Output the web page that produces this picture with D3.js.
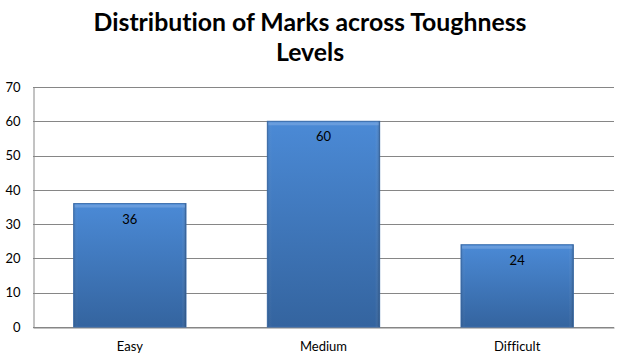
<!DOCTYPE html>
<html><head><meta charset="utf-8">
<script src="https://cdn.jsdelivr.net/npm/d3@7/dist/d3.min.js"></script>
<style>body{margin:0;background:#fff}svg{display:block}text{font-variant-ligatures:none}</style>
</head><body><svg id="c" width="620" height="360"></svg>
<script>
const categories = ["Easy", "Medium", "Difficult"];
const values = [36, 60, 24];
const yTicks = [0, 10, 20, 30, 40, 50, 60, 70];
const titleLines = ["Distribution of Marks across Toughness", "Levels"];

const svg = d3.select("#c");
const W = 620, H = 360;
const m = {left: 33, right: 6, top: 87, bottom: 33};
const font = "Lato, 'Open Sans', sans-serif";

const x = d3.scaleBand().domain(categories).range([m.left, W - m.right]).paddingInner(0.42).paddingOuter(0.21);
const y = d3.scaleLinear().domain([0, 70]).range([H - m.bottom, m.top]);

const defs = svg.append("defs");
const g = defs.append("linearGradient").attr("id", "bg").attr("x1", 0).attr("y1", 0).attr("x2", 0).attr("y2", 1);
g.append("stop").attr("offset", "0%").attr("stop-color", "#4b8ad6");
g.append("stop").attr("offset", "100%").attr("stop-color", "#34649f");
const gh = defs.append("linearGradient").attr("id", "bh").attr("x1", 0).attr("y1", 0).attr("x2", 1).attr("y2", 0);
gh.append("stop").attr("offset", "0%").attr("stop-color", "#000").attr("stop-opacity", 0.12);
gh.append("stop").attr("offset", "4%").attr("stop-color", "#fff").attr("stop-opacity", 0.0);
gh.append("stop").attr("offset", "96%").attr("stop-color", "#fff").attr("stop-opacity", 0.0);
gh.append("stop").attr("offset", "100%").attr("stop-color", "#000").attr("stop-opacity", 0.22);

// gridlines
svg.append("g").selectAll("line").data(yTicks).join("line")
  .attr("x1", m.left).attr("x2", W - m.right)
  .attr("y1", d => Math.round(y(d)) + 0.5).attr("y2", d => Math.round(y(d)) + 0.5)
  .attr("stroke", "#868686").attr("stroke-width", 1);

// y axis
const ya = svg.append("g").attr("transform", `translate(${m.left + 0.5},0)`)
  .call(d3.axisLeft(y).tickValues(yTicks).tickSize(0).tickPadding(13));
ya.select(".domain").attr("stroke", "#868686");
ya.selectAll("text").attr("font-family", font).attr("font-size", 13).attr("fill", "#000");

// x axis
const xa = svg.append("g").attr("transform", `translate(0,${Math.round(y(0)) + 0.5})`)
  .call(d3.axisBottom(x).tickSize(0).tickPadding(14));
xa.select(".domain").attr("stroke", "#868686");
xa.selectAll("text").attr("font-family", font).attr("font-size", 13).attr("fill", "#000");

// bars
const bars = svg.append("g").selectAll("g").data(values).join("g");
bars.append("rect")
  .attr("x", (d, i) => x(categories[i])).attr("width", x.bandwidth())
  .attr("y", d => y(d)).attr("height", d => y(0) - y(d))
  .attr("fill", "url(#bg)").attr("stroke", "#3c6fae").attr("stroke-width", 1);
bars.append("rect")
  .attr("x", (d, i) => x(categories[i])).attr("width", x.bandwidth())
  .attr("y", d => y(d)).attr("height", d => y(0) - y(d))
  .attr("fill", "url(#bh)");
bars.append("rect")
  .attr("x", (d, i) => x(categories[i]) + 1).attr("width", x.bandwidth() - 2)
  .attr("y", d => y(d) + 1).attr("height", 3)
  .attr("fill", "#8db4e6").attr("opacity", 0.45);
bars.append("text")
  .attr("x", (d, i) => x(categories[i]) + x.bandwidth() / 2)
  .attr("y", d => y(d) + 20)
  .attr("text-anchor", "middle").attr("font-family", font).attr("font-size", 13).attr("fill", "#000")
  .text(d => d);

// title
const t = svg.append("g");
titleLines.forEach((s, i) => {
  t.append("text").attr("x", 310).attr("y", 31 + i * 30)
    .attr("text-anchor", "middle").attr("font-family", font).attr("font-weight", "bold")
    .attr("font-size", 24).attr("fill", "#000").text(s);
});
const first = t.select("text").node();
const len = first.getComputedTextLength();
const fs = Math.min(26, 24 * 433 / len);
t.selectAll("text").attr("font-size", fs);
</script></body></html>
